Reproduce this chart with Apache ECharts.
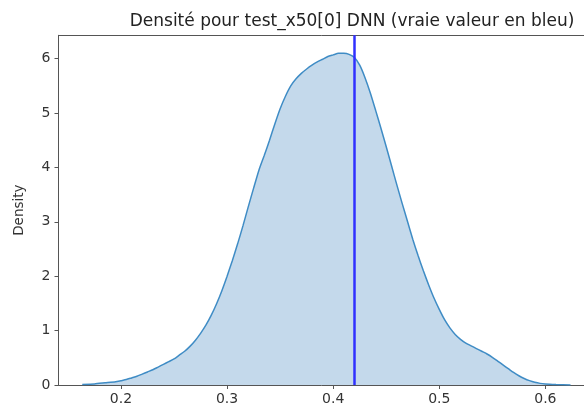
<!DOCTYPE html>
<html lang="fr">

<head>
    <meta charset="UTF-8">
    <title>Densité pour test_x50[0] DNN</title>
    <style>
        html, body {
            margin: 0;
            padding: 0;
            background: #ffffff;
        }

        #chart {
            width: 584px;
            height: 412px;
        }
    </style>
    <script src="https://cdn.jsdelivr.net/npm/echarts@6.0.0/dist/echarts.min.js"></script>
</head>

<body>
<div id="chart"></div>

<script>
    // abscisses de la courbe de densité
    var densityX = [0.1635, 0.175, 0.185, 0.195, 0.200, 0.205, 0.210, 0.215, 0.220, 0.225, 0.230,
        0.235, 0.240, 0.245, 0.250, 0.255, 0.260, 0.265, 0.270, 0.275, 0.280, 0.285, 0.290, 0.295,
        0.300, 0.305, 0.310, 0.315, 0.320, 0.325, 0.330, 0.335, 0.340, 0.345, 0.350, 0.355, 0.360,
        0.365, 0.370, 0.375, 0.380, 0.385, 0.390, 0.395, 0.400, 0.405, 0.410, 0.415, 0.420, 0.425,
        0.430, 0.435, 0.440, 0.445, 0.450, 0.455, 0.460, 0.465, 0.470, 0.475, 0.480, 0.485, 0.490,
        0.495, 0.500, 0.505, 0.510, 0.515, 0.520, 0.525, 0.530, 0.535, 0.540, 0.545, 0.550, 0.555,
        0.560, 0.565, 0.570, 0.575, 0.580, 0.585, 0.590, 0.595, 0.600, 0.610, 0.6237];
    // densité correspondante
    var densityY = [0.01, 0.02, 0.04, 0.06, 0.08, 0.10, 0.13, 0.16, 0.20, 0.24, 0.28,
        0.33, 0.38, 0.43, 0.48, 0.55, 0.62, 0.71, 0.82, 0.95, 1.10, 1.28, 1.49, 1.73,
        2.00, 2.29, 2.60, 2.93, 3.28, 3.62, 3.95, 4.22, 4.50, 4.80, 5.08, 5.31, 5.50,
        5.63, 5.73, 5.81, 5.88, 5.94, 5.99, 6.04, 6.07, 6.10, 6.10, 6.08, 6.02, 5.88,
        5.65, 5.37, 5.05, 4.72, 4.38, 4.03, 3.68, 3.34, 3.01, 2.68, 2.38, 2.10, 1.84,
        1.60, 1.39, 1.20, 1.05, 0.93, 0.84, 0.77, 0.72, 0.67, 0.62, 0.57, 0.51, 0.44,
        0.37, 0.30, 0.23, 0.17, 0.12, 0.08, 0.05, 0.03, 0.02, 0.01, 0.00];

    // vraie valeur (ligne bleue)
    var trueValue = [0.4185];

    // graduations
    var xTicks = [0.2, 0.3, 0.4, 0.5, 0.6];
    var yTicks = [0, 1, 2, 3, 4, 5, 6];

    var points = densityX.map(function (x, i) {
        return [x, densityY[i]];
    });

    var chart = echarts.init(document.getElementById('chart'), null, {renderer: 'canvas'});

    var axisColor = '#555555';
    var labelStyle = {
        color: '#333333',
        fontSize: 14,
        fontFamily: 'DejaVu Sans'
    };

    var option = {
        animation: false,
        backgroundColor: '#ffffff',
        title: {
            text: 'Densité pour test_x50[0] DNN (vraie valeur en bleu)',
            left: 347,
            top: 8,
            textAlign: 'center',
            textStyle: {
                color: '#222222',
                fontSize: 17,
                fontWeight: 'normal',
                fontFamily: 'DejaVu Sans'
            }
        },
        grid: {
            left: 58.5,
            right: 0,
            top: 35.3,
            bottom: 27,
            containLabel: false
        },
        xAxis: [{
            type: 'value',
            min: 0.1411,
            max: 0.6364,
            position: 'bottom',
            splitLine: {show: false},
            axisLine: {show: true, lineStyle: {color: axisColor, width: 1}},
            axisTick: {
                show: true,
                length: 4,
                customValues: xTicks,
                lineStyle: {color: axisColor}
            },
            axisLabel: Object.assign({
                margin: 7,
                customValues: xTicks,
                formatter: function (v) {
                    return v.toFixed(1);
                }
            }, labelStyle)
        }, {
            type: 'value',
            min: 0.1411,
            max: 0.6364,
            position: 'top',
            splitLine: {show: false},
            axisLine: {show: true, lineStyle: {color: axisColor, width: 1}},
            axisTick: {show: false},
            axisLabel: {show: false}
        }],
        yAxis: {
            type: 'value',
            min: 0,
            max: 6.43,
            name: 'Density',
            nameLocation: 'middle',
            nameGap: 32,
            nameTextStyle: {
                color: '#333333',
                fontSize: 13.5,
                fontFamily: 'DejaVu Sans'
            },
            splitLine: {show: false},
            axisLine: {show: true, lineStyle: {color: axisColor, width: 1}},
            axisTick: {
                show: true,
                length: 4,
                customValues: yTicks,
                lineStyle: {color: axisColor}
            },
            axisLabel: Object.assign({
                margin: 8,
                customValues: yTicks
            }, labelStyle)
        },
        series: [{
            name: 'densité',
            type: 'line',
            xAxisIndex: 0,
            data: points,
            smooth: 0.2,
            showSymbol: false,
            lineStyle: {color: '#3f8cc5', width: 1.5},
            areaStyle: {color: '#c4d9eb', opacity: 1, origin: 'start'},
            markLine: {
                silent: true,
                symbol: 'none',
                label: {show: false},
                lineStyle: {color: '#3030ff', width: 2.5, type: 'solid'},
                data: [{xAxis: trueValue[0]}]
            }
        }]
    };

    chart.setOption(option);
</script>
</body>

</html>
